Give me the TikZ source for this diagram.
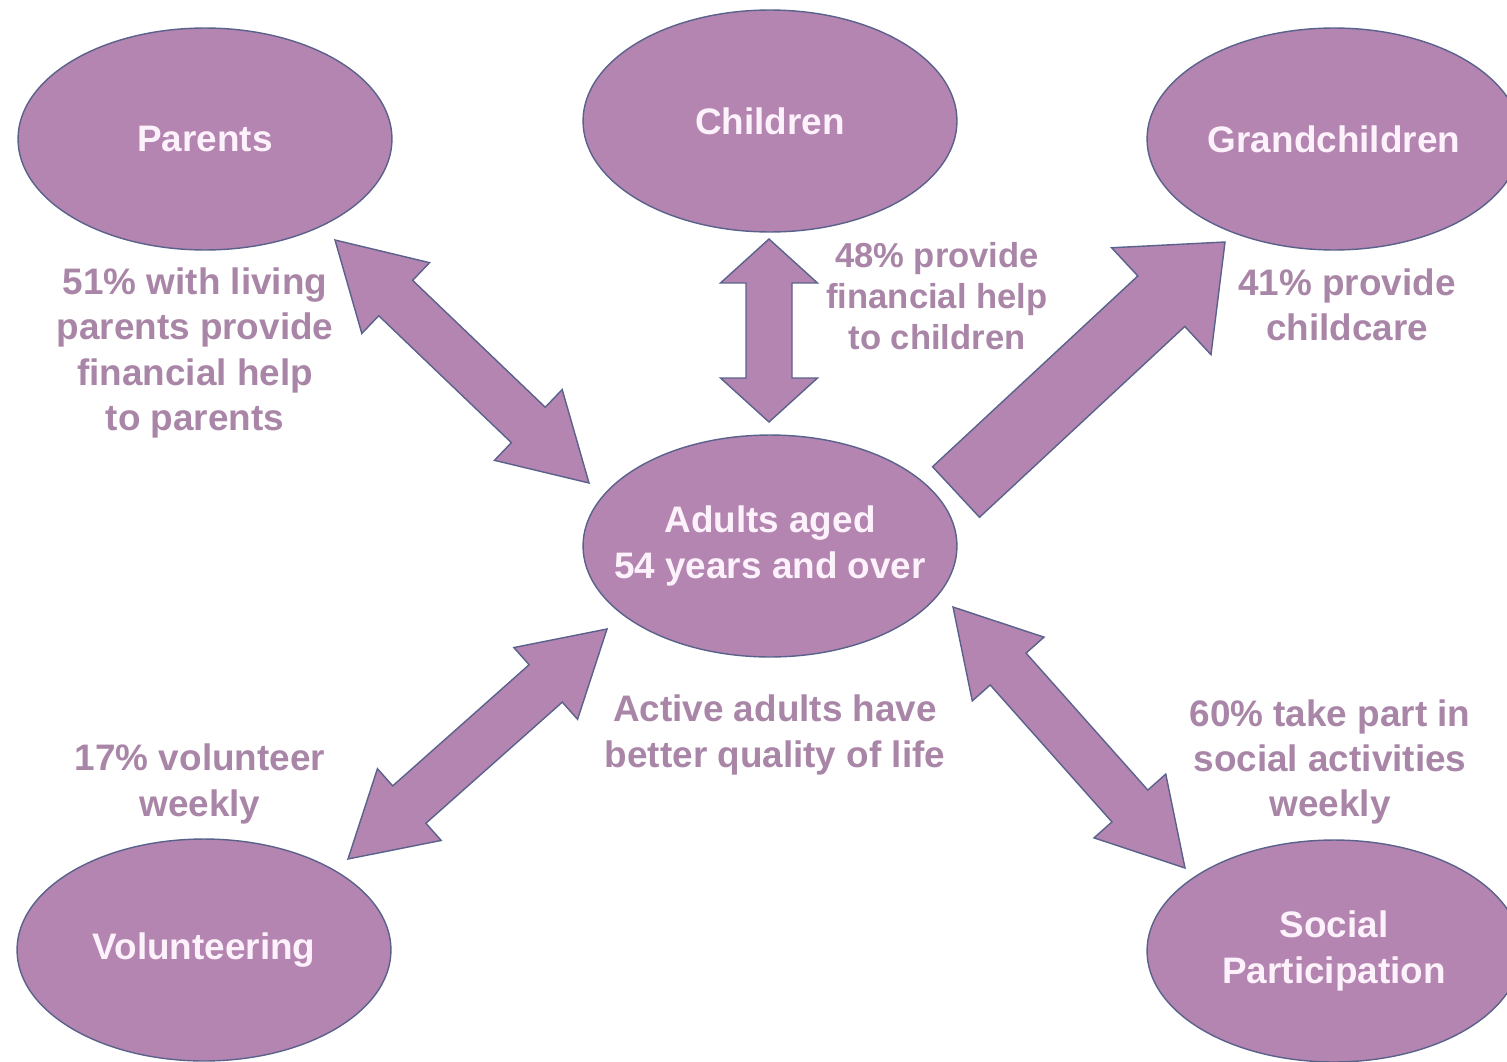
\documentclass[tikz,border=0pt]{standalone}
\usepackage{fontspec}
\setmainfont{Liberation Sans}
\usetikzlibrary{calc,shapes.geometric}
\definecolor{plum}{HTML}{B385B0}
\definecolor{plumline}{HTML}{5A628C}
\definecolor{plumtext}{HTML}{A985A7}
\definecolor{paletext}{HTML}{FDF2FC}
% block arrows: [style](from)(to)(head length:head half width:shaft half width)
\def\twoway[#1](#2)(#3)(#4:#5:#6){\draw[#1] (#2) -- ($(#2)!#4!(#3)!#5!90:(#3)$) -- ($(#2)!#4!(#3)!#6!90:(#3)$) -- ($(#3)!#4!(#2)!#6!-90:(#2)$) -- ($(#3)!#4!(#2)!#5!-90:(#2)$) -- (#3) -- ($(#3)!#4!(#2)!#5!90:(#2)$) -- ($(#3)!#4!(#2)!#6!90:(#2)$) -- ($(#2)!#4!(#3)!#6!-90:(#3)$) -- ($(#2)!#4!(#3)!#5!-90:(#3)$) -- cycle;}
\def\oneway[#1](#2)(#3)(#4:#5:#6){\draw[#1] ($(#2)!#6!90:(#3)$) -- ($(#3)!#4!(#2)!#6!-90:(#2)$) -- ($(#3)!#4!(#2)!#5!-90:(#2)$) -- (#3) -- ($(#3)!#4!(#2)!#5!90:(#2)$) -- ($(#3)!#4!(#2)!#6!90:(#2)$) -- ($(#2)!#6!-90:(#3)$) -- cycle;}

\begin{document}
\begin{tikzpicture}[x=0.02cm, y=-0.02cm,
    bubble/.style={ellipse, draw=plumline, line width=0.8pt, fill=plum, minimum width=7.48cm, minimum height=4.44cm, inner sep=0pt, align=center, text=paletext, font=\bfseries\fontsize{21}{26}\selectfont},
    note/.style={align=center, text=plumtext, font=\bfseries\fontsize{21}{25.8}\selectfont},
    block/.style={draw=plumline, line width=0.8pt, fill=plum, line join=miter}]
    %%%%% START %%%%%

    \useasboundingbox (0,0) rectangle (1507,1061);
    \fill[white] (0,0) rectangle (1507,1061);

    % the six bubbles
    \node[bubble] (parents) at (205,139) {Parents};
    \node[bubble] (children) at (770,121) {Children};
    \node[bubble] (grandchildren) at (1334,139) {Grandchildren};
    \node[bubble, inner xsep=-0.7cm] (adults) at (770,546) {Adults aged\\54 years and over};
    \node[bubble] (volunteering) at (204,950) {Volunteering};
    \node[bubble] (social) at (1334,951) {Social\\Participation};

    % arrow ends
    \coordinate (pa1) at (335,240);
    \coordinate (pa2) at (589,483);
    \coordinate (ca1) at (769,239);
    \coordinate (ca2) at (769,422);
    \coordinate (ga1) at (956,492);
    \coordinate (ga2) at (1225,242);
    \coordinate (va1) at (348,859);
    \coordinate (va2) at (607,629);
    \coordinate (sa1) at (953,607);
    \coordinate (sa2) at (1185,868);

    \twoway[block](pa1)(pa2)(1.68cm:0.98cm:0.49cm)
    \twoway[block](ca1)(ca2)(0.88cm:0.97cm:0.46cm)
    \oneway[block](ga1)(ga2)(1.74cm:1.46cm:0.69cm)
    \twoway[block](va1)(va2)(1.64cm:0.96cm:0.50cm)
    \twoway[block](sa1)(sa2)(1.66cm:0.96cm:0.48cm)

    % figures
    \node[note] (parentsnote) at (195,353) {51\% with living\\parents provide\\financial help\\to parents};
    \node[note, font=\bfseries\fontsize{19.7}{23.5}\selectfont] (childrennote) at (937,296) {48\% provide\\financial help\\to children};
    \node[note] (grandnote) at (1347,305) {41\% provide\\childcare};
    \node[note] (adultsnote) at (775,735) {Active adults have\\better quality of life};
    \node[note] (volunteernote) at (200,784) {17\% volunteer\\weekly};
    \node[note] (socialnote) at (1330,762) {60\% take part in\\social activities\\weekly};

    %%%%% END %%%%%
\end{tikzpicture}
\end{document}
